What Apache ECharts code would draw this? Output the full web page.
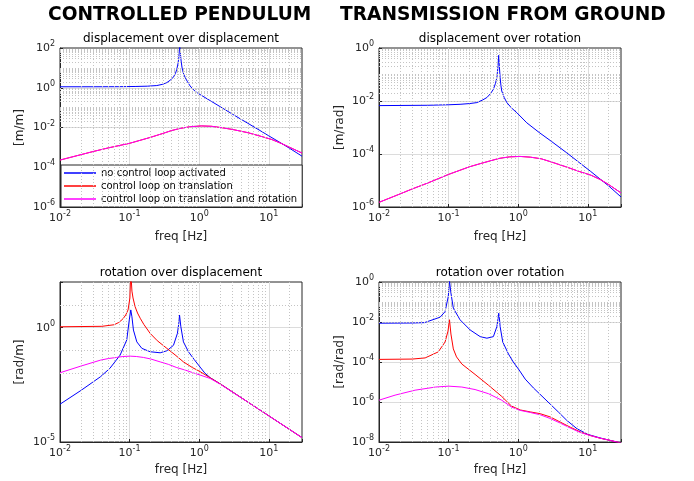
<!DOCTYPE html>
<html>
<head>
<meta charset="utf-8">
<script src="https://cdn.jsdelivr.net/npm/echarts@6.0.0/dist/echarts.min.js"></script>
<style>
  html, body { margin: 0; background: #fff; }
  #chart { width: 694px; height: 481px; }
</style>
</head>
<body>
<div id="chart"></div>
<script>
// ---- data (frequency [Hz], magnitude) ----
const seriesNames = ['no control loop activated', 'control loop on translation', 'control loop on translation and rotation'];
const panelTitles = ['displacement over displacement', 'displacement over rotation', 'rotation over displacement', 'rotation over rotation'];
const yUnits = ['[m/m]', '[m/rad]', '[rad/m]', '[rad/rad]'];
const yMins = [1e-6, 1e-6, 1e-5, 1e-8];
const yMaxs = [1e2, 1, 1e2, 1];
const yStep = [2, 2, 5, 2]; // decades between labelled ticks
const freqMin = 0.01;
const freqMax = 30;
const minorMult = [2, 3, 4, 5, 6, 7, 8, 9];

// displacement over displacement
const ddBlue = [[0.01,1.12],[0.03,1.12],[0.07,1.13],[0.12,1.16],[0.18,1.2],[0.246,1.29],[0.3,1.5],[0.343,1.82],[0.39,2.5],[0.427,3.5],[0.455,5.2],[0.477,8.5],[0.495,16],[0.508,30],[0.52,90],[0.526,160],[0.535,60],[0.545,30],[0.55,22],[0.565,11],[0.58,7.1],[0.6,4.8],[0.63,3.2],[0.68,2],[0.74,1.23],[0.8,0.9],[0.87,0.68],[0.95,0.54],[1.07,0.42],[1.5,0.205],[2,0.112],[3,0.047],[5,0.0163],[7,8.1e-3],[10,3.8e-3],[14,1.9e-3],[20,8.9e-4],[30,3.6e-4]];
const ddMagenta = [[0.01,2.3e-4],[0.02,4.3e-4],[0.03,6.2e-4],[0.05,9.5e-4],[0.1,1.6e-3],[0.2,3.2e-3],[0.3,5e-3],[0.4,7e-3],[0.53,9e-3],[0.75,0.011],[1.07,0.012],[1.5,0.0115],[2.14,9.7e-3],[3,8e-3],[5,5.5e-3],[7.5,3.7e-3],[11,2.5e-3],[15,1.6e-3],[20,1e-3],[30,5.2e-4]];
const ddRed = ddMagenta; // hidden under magenta in the reference

// displacement over rotation
const drBlue = [[0.01,6.7e-3],[0.05,6.9e-3],[0.1,7.2e-3],[0.146,7.5e-3],[0.2,8e-3],[0.255,8.7e-3],[0.31,0.011],[0.355,0.0135],[0.4,0.019],[0.44,0.0276],[0.47,0.045],[0.494,0.076],[0.512,0.2],[0.524,0.53],[0.536,0.2],[0.55,0.076],[0.565,0.038],[0.58,0.024],[0.63,0.0135],[0.687,8.7e-3],[0.8,5.5e-3],[0.957,3.6e-3],[1.33,1.5e-3],[2,6.5e-4],[3,3e-4],[5,1.1e-4],[7.5,4.8e-5],[11,2.2e-5],[20,6.2e-6],[30,2.4e-6]];
const drMagenta = [[0.01,1.5e-6],[0.02,3.1e-6],[0.03,4.8e-6],[0.05,8e-6],[0.1,1.7e-5],[0.2,3.3e-5],[0.3,4.5e-5],[0.53,6.8e-5],[0.75,7.8e-5],[1.06,8.1e-5],[1.5,7.6e-5],[2.14,6.6e-5],[3,5e-5],[5,3.2e-5],[7.5,2.2e-5],[11,1.6e-5],[15,1.1e-5],[20,7e-6],[30,3.4e-6]];
const drRed = drMagenta;

// rotation over displacement
const rdBlue = [[0.01,4.5e-4],[0.02,1.8e-3],[0.038,7.1e-3],[0.052,0.0166],[0.073,0.063],[0.091,0.29],[0.099,2.2],[0.104,6],[0.108,3],[0.1135,0.79],[0.127,0.24],[0.15,0.125],[0.197,0.089],[0.275,0.08],[0.343,0.098],[0.427,0.17],[0.487,0.57],[0.51,1.6],[0.522,3.6],[0.545,1.1],[0.594,0.24],[0.7,0.089],[0.85,0.04],[1.03,0.019],[1.2,0.0105],[1.44,6.5e-3],[2,3.5e-3],[5,5.6e-4],[10,1.4e-4],[20,3.5e-5],[30,1.55e-5]];
const rdRed = [[0.01,1.1],[0.04,1.15],[0.06,1.35],[0.07,1.7],[0.08,2.4],[0.088,3.6],[0.095,6],[0.101,20],[0.104,300],[0.108,40],[0.112,20],[0.12,8.3],[0.13,4.4],[0.142,2.6],[0.16,1.4],[0.197,0.57],[0.25,0.27],[0.343,0.125],[0.45,0.065],[0.594,0.032],[0.8,0.018],[1.03,0.012],[1.44,6.4e-3],[2,3.5e-3],[5,5.6e-4],[10,1.4e-4],[20,3.5e-5],[30,1.55e-5]];
const rdMagenta = [[0.01,0.0107],[0.02,0.021],[0.038,0.038],[0.05,0.045],[0.065,0.05],[0.08,0.055],[0.102,0.057],[0.125,0.055],[0.158,0.05],[0.2,0.043],[0.275,0.032],[0.36,0.025],[0.477,0.018],[0.63,0.014],[0.83,0.0105],[1.03,8.5e-3],[1.44,6e-3],[2,3.4e-3],[5,5.6e-4],[10,1.4e-4],[20,3.5e-5],[30,1.55e-5]];

// rotation over rotation
const rrBlue = [[0.01,8.7e-3],[0.03,8.9e-3],[0.045,9.3e-3],[0.0755,0.0174],[0.089,0.033],[0.099,0.19],[0.103,1.1],[0.108,0.28],[0.117,0.049],[0.146,0.0129],[0.204,4e-3],[0.284,1.86e-3],[0.355,1.55e-3],[0.44,1.86e-3],[0.494,5.9e-3],[0.51,0.0126],[0.525,0.0275],[0.54,0.0126],[0.55,5.9e-3],[0.6,1e-3],[0.725,2.5e-4],[0.85,1e-4],[1.03,4e-5],[1.26,1.4e-5],[1.66,5e-6],[2.2,1.95e-6],[2.88,7.9e-7],[3.8,3.1e-7],[5,1.2e-7],[7,4.6e-8],[10,2.4e-8],[15,1.6e-8],[21,1.2e-8],[30,8.9e-9]];
const rrRed = [[0.01,1.35e-4],[0.03,1.4e-4],[0.046,1.6e-4],[0.071,3.2e-4],[0.089,1e-3],[0.098,3.5e-3],[0.103,0.013],[0.108,2.5e-3],[0.117,4.5e-4],[0.13,1.8e-4],[0.155,7.9e-5],[0.24,2.4e-5],[0.374,6.9e-6],[0.58,1.9e-6],[0.8,6.3e-7],[1.07,4e-7],[1.49,3.2e-7],[2.07,2.6e-7],[2.88,1.8e-7],[4,1e-7],[5.6,5.5e-8],[7.8,3.2e-8],[10.9,2.1e-8],[15,1.55e-8],[21,1.2e-8],[30,8.9e-9]];
const rrMagenta = [[0.01,1.23e-6],[0.017,2.2e-6],[0.033,3.9e-6],[0.065,5.6e-6],[0.1,6.2e-6],[0.155,5.6e-6],[0.24,4.2e-6],[0.374,2.6e-6],[0.58,1.23e-6],[0.8,5.6e-7],[1.07,3.8e-7],[1.49,3e-7],[2.07,2.3e-7],[2.88,1.5e-7],[4,8.9e-8],[5.6,5e-8],[7.8,3e-8],[10.9,2.1e-8],[15,1.55e-8],[21,1.2e-8],[30,8.9e-9]];

const panelData = [
  [ddBlue, ddRed, ddMagenta],
  [drBlue, drRed, drMagenta],
  [rdBlue, rdRed, rdMagenta],
  [rrBlue, rrRed, rrMagenta]
];

// ---- layout / style ----
const FONT = 'DejaVu Sans';
const INK = '#262626';
const lineColors = ['#0000ff', '#ff0000', '#ff00ff'];
const boxes = [
  { left: 60, top: 48, width: 242, height: 159 },
  { left: 379, top: 48, width: 242, height: 159 },
  { left: 60, top: 282, width: 242, height: 160 },
  { left: 379, top: 282, width: 242, height: 160 }
];
const decadeOnlyMinorY = [false, false, true, false];

const rich = {
  b: { fontSize: 11, fontFamily: FONT, color: INK, lineHeight: 16 },
  s: { fontSize: 8, fontFamily: FONT, color: INK, verticalAlign: 'top', lineHeight: 7 }
};

function expLabel(v, step) {
  const l = Math.log10(v);
  const e = Math.round(l);
  if (Math.abs(l - e) > 1e-6 || e % step !== 0) return '';
  return '{b|10}{s|' + e + '}';
}

// minor (dotted) grid positions: 2..9 x 10^k, plus unlabelled decades
function minorLines(lo, hi, step, decadeOnly) {
  const out = [];
  const e0 = Math.round(Math.log10(lo));
  const e1 = Math.ceil(Math.log10(hi));
  for (let e = e0; e < e1; e++) {
    if (e > e0 && e % step !== 0) out.push(Math.pow(10, e));
    if (decadeOnly) continue;
    minorMult.forEach(m => {
      const v = m * Math.pow(10, e);
      if (v < hi * 0.999) out.push(v);
    });
  }
  return out;
}

const grid = [], xAxis = [], yAxis = [], series = [], graphic = [];

boxes.forEach((b, i) => {
  grid.push(Object.assign({ show: true, borderColor: INK, borderWidth: 1, backgroundColor: '#fff', containLabel: false }, b));

  xAxis.push({
    type: 'log', logBase: 10, gridIndex: i, min: freqMin, max: freqMax, interval: 1,
    name: 'freq [Hz]', nameLocation: 'middle', nameGap: i < 2 ? 24 : 22,
    nameTextStyle: { fontFamily: FONT, fontSize: 12, color: INK },
    axisLine: { show: true, lineStyle: { color: INK, width: 1 } },
    axisTick: { show: true, inside: true, length: 3, lineStyle: { color: INK } },
    axisLabel: { margin: 3, formatter: v => expLabel(v, 1), rich: rich },
    splitLine: { show: true, showMinLine: false, showMaxLine: false, lineStyle: { color: '#dcdcdc', width: 1 } }
  });

  yAxis.push({
    type: 'log', logBase: 10, gridIndex: i, min: yMins[i], max: yMaxs[i], interval: yStep[i],
    name: yUnits[i], nameLocation: 'middle', nameRotate: 90, nameGap: i % 2 === 0 ? 34 : 33,
    nameTextStyle: { fontFamily: FONT, fontSize: 12, color: INK },
    axisLine: { show: true, lineStyle: { color: INK, width: 1 } },
    axisTick: { show: true, inside: true, length: 3, lineStyle: { color: INK } },
    axisLabel: { margin: 5, formatter: v => expLabel(v, yStep[i]), rich: rich },
    splitLine: { show: true, showMinLine: false, showMaxLine: false, lineStyle: { color: '#dcdcdc', width: 1 } }
  });

  // dotted minor grid
  const mx = minorLines(freqMin, freqMax, 1, false).map(v => ({ xAxis: v }));
  const my = minorLines(yMins[i], yMaxs[i], yStep[i], decadeOnlyMinorY[i]).map(v => ({ yAxis: v }));
  series.push({
    name: 'grid' + i, type: 'line', xAxisIndex: i, yAxisIndex: i, data: [], silent: true, z: 1,
    markLine: {
      silent: true, symbol: ['none', 'none'], animation: false, label: { show: false },
      lineStyle: { type: [1, 2], color: '#c4c4c4', width: 1 },
      emphasis: { disabled: true },
      data: mx.concat(my)
    }
  });

  panelData[i].forEach((d, k) => {
    series.push({
      name: seriesNames[k], type: 'line', xAxisIndex: i, yAxisIndex: i, data: d,
      symbol: 'none', showSymbol: false, smooth: false, clip: true, z: 3,
      lineStyle: { color: lineColors[k], width: 1 }, itemStyle: { color: lineColors[k] },
      emphasis: { disabled: true }
    });
  });

  graphic.push({
    type: 'text', x: b.left + b.width / 2, y: b.top - 9, silent: true,
    style: { text: panelTitles[i], textAlign: 'center', textVerticalAlign: 'middle', font: '12px "' + FONT + '"', fill: '#000' }
  });
});

graphic.push(
  { type: 'text', x: 48, y: 15, silent: true, style: { text: 'CONTROLLED PENDULUM', textAlign: 'left', textVerticalAlign: 'middle', font: 'bold 18.6px "' + FONT + '"', fill: '#000' } },
  { type: 'text', x: 340, y: 15, silent: true, style: { text: 'TRANSMISSION FROM GROUND', textAlign: 'left', textVerticalAlign: 'middle', font: 'bold 18.6px "' + FONT + '"', fill: '#000' } }
);

const chart = echarts.init(document.getElementById('chart'));
chart.setOption({
  backgroundColor: '#fff',
  animation: false,
  grid: grid,
  xAxis: xAxis,
  yAxis: yAxis,
  series: series,
  graphic: graphic,
  legend: {
    data: seriesNames, orient: 'vertical', left: 61, top: 165,
    icon: 'rect', itemWidth: 32, itemHeight: 1.5, itemGap: 1, padding: [2, 5, 2, 3],
    backgroundColor: '#fff', borderColor: INK, borderWidth: 1, borderRadius: 0,
    selectedMode: false,
    textStyle: { fontFamily: FONT, fontSize: 10, lineHeight: 12, color: '#000' }
  }
});
</script>
</body>
</html>
